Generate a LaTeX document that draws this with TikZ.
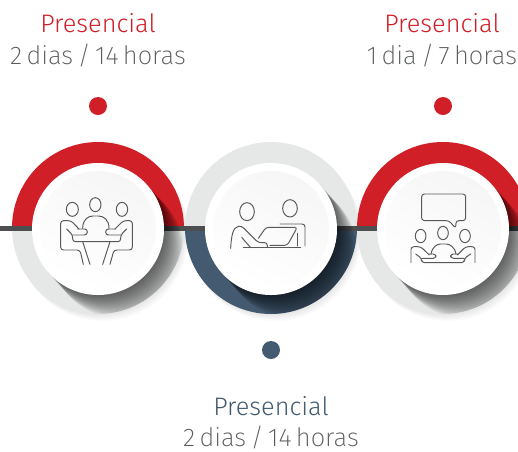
\documentclass[tikz,border=0pt]{standalone}
\usepackage{fontspec}
\setmainfont[WordSpace=0.75]{Fira Sans Light}
\newfontfamily\thinfont[WordSpace=0.6]{Fira Sans ExtraLight}
\definecolor{ringred}{HTML}{D01F27}
\definecolor{ringgrey}{HTML}{E6E8E8}
\definecolor{ringnavy}{HTML}{435A70}
\definecolor{barcol}{HTML}{4C4E50}
\definecolor{textgrey}{HTML}{5A5C5E}
\definecolor{iconcol}{HTML}{58595B}
\tikzset{
  titletext/.style={anchor=base,inner sep=0pt,font=\fontsize{14.4}{15}\selectfont},
  hourstext/.style={anchor=base,inner sep=0pt,text=textgrey,font=\thinfont\fontsize{14.5}{15}\selectfont},
  icon/.style={draw=iconcol,line width=0.55pt,line join=round,line cap=round,rounded corners=1.6pt},
}
\begin{document}
\begin{tikzpicture}[x=0.02cm,y=-0.02cm]
  \clip (0,0) rectangle (518,451);

  % Soft shadow under the discs
  \foreach \cx in {98,271,443}
    \foreach \i in {1,...,8}
      \fill [black,opacity=0.012] (\cx+\i*0.6,228+\i*0.9) circle (86);

  % Discs and bar
  \foreach \cx/\upcol/\lowcol in {98/ringred/ringgrey,271/ringgrey/ringnavy,443/ringred/ringgrey} {
    \fill [\upcol] (\cx-86,228) arc [start angle=180,end angle=360,radius=86] -- cycle;
    \fill [\lowcol] (\cx-86,228) arc [start angle=180,end angle=0,radius=86] -- cycle;
  }
  \fill [barcol] (0,225.5) rectangle (518,230.5);

  % Long shadows and faces
  \foreach \cx in {98,271,443} {
    \begin{scope}
      \clip (\cx,228) circle (86);
      \foreach \i in {1,...,24}
        \fill [black,opacity=0.032] (\cx+\i*0.85,229+\i*0.95) circle (66);
    \end{scope}
    \fill [white] (\cx,229) circle (66);
    \shade [top color=black!3.5,bottom color=white,shading angle=-25] (\cx,229) circle (58);
  }

  % Dots
  \fill [ringred] (98,106) circle (9);
  \fill [ringred] (443,106) circle (9);
  \fill [ringnavy] (271,350) circle (9);

  % Labels
  \node [titletext,text=ringred] (titleleft) at (98,32.5) {Presencial};
  \node [hourstext] (hoursleft) at (98,64) {2 dias / 14 horas};
  \node [titletext,text=ringred] (titleright) at (442,32.5) {Presencial};
  \node [hourstext] (hoursright) at (442,64) {1 dia / 7 horas};
  \node [titletext,text=ringnavy] (titlemid) at (271,415.5) {Presencial};
  \node [hourstext] (hoursmid) at (271,446) {2 dias / 14 horas};

  % Table icon
  \begin{scope}[shift={(0,130)},scale=1/3,icon]
    \draw (217,238) ellipse [x radius=18,y radius=21];
    \draw (286,224) ellipse [x radius=17,y radius=21];
    \draw (366,238) ellipse [x radius=17,y radius=21];
    \draw (237,297) -- (213,272) -- (182,272) -- (182,360) -- (240,360) -- (250,403);
    \draw (345,297) -- (370,272) -- (397,272) -- (397,360) -- (342,360) -- (330,403);
    \draw (200,297) -- (218,315) -- (218,335) -- (362,335) -- (362,315) -- (380,297);
    \draw (218,315) -- (262,315) -- (262,297) -- (232,297);
    \draw (362,315) -- (317,315) -- (317,297) -- (347,297);
    \draw (248,295) .. controls (248,268) and (265,258) .. (287,258) .. controls (310,258) and (327,268) .. (327,295);
    \draw (248,335) -- (270,403);
    \draw (330,335) -- (308,403);
  \end{scope}

  % Laptop icon
  \begin{scope}[shift={(180,130)},scale=1/3,icon]
    \draw (201,245) ellipse [x radius=22,y radius=27];
    \draw (330,235) ellipse [x radius=22,y radius=26];
    \draw (152,355) .. controls (154,320) and (158,290) .. (185,288) -- (235,338) -- (262,338) -- (262,353);
    \draw (185,322) -- (212,353);
    \draw (190,353) -- (362,353);
    \draw (235,325) -- (258,292) -- (352,292) -- (322,346) -- (270,346);
    \draw (300,282) -- (375,282) -- (375,348);
    \draw (352,310) -- (352,348);
  \end{scope}

  % Speech icon
  \begin{scope}[shift={(350,130)},scale=1/3,icon]
    \draw (297,272) -- (215,272) -- (215,192) -- (347,192) -- (347,272) -- (318,272) -- (317,295) -- cycle;
    \draw (212,318) ellipse [x radius=16,y radius=20];
    \draw (279,309) ellipse [x radius=16,y radius=20];
    \draw (345,318) ellipse [x radius=16,y radius=20];
    \draw (183,398) -- (183,350) -- (212,350) -- (238,375);
    \draw (375,398) -- (375,350) -- (347,350) -- (322,375);
    \draw (243,373) .. controls (246,350) and (262,342) .. (280,342) .. controls (298,342) and (315,350) .. (318,373);
    \draw (197,372) -- (215,385) -- (215,398) -- (343,398) -- (343,385) -- (362,372);
    \draw (215,385) -- (258,385) -- (258,372) -- (236,372);
    \draw (343,385) -- (302,385) -- (302,372) -- (324,372);
  \end{scope}
\end{tikzpicture}
\end{document}
